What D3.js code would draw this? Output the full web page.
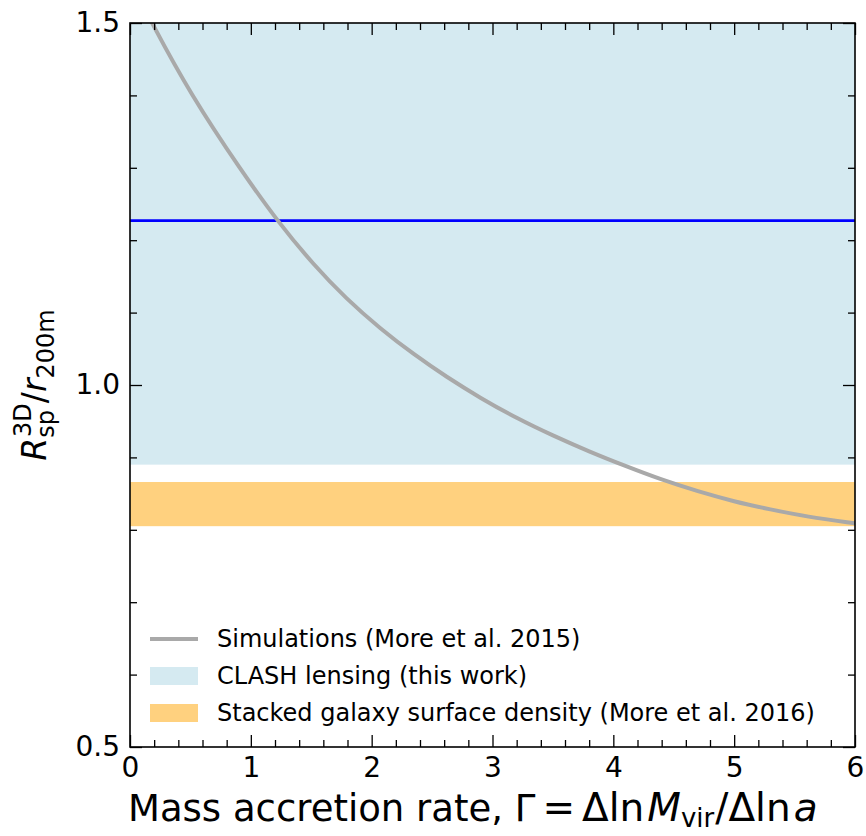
<!DOCTYPE html>
<html>
<head>
<meta charset="utf-8">
<script src="https://cdn.jsdelivr.net/npm/d3@7"></script>
<style>
  body { margin: 0; background: #fff; }
  text { font-family: "DejaVu Sans", sans-serif; fill: #000; }
</style>
</head>
<body>
<div id="chart"></div>
<script>
// simulation curve (More et al. 2015)
const gammaVals = [0, 0.18, 0.5, 0.92, 1.24, 1.52, 1.79, 2.07, 2.35, 2.62, 2.9, 3.2, 3.5, 3.8, 4.1, 4.4, 4.7, 5.0, 5.3, 5.6, 6.0];
const rspVals   = [1.560, 1.500, 1.402, 1.296, 1.222, 1.166, 1.119, 1.078, 1.042, 1.011, 0.982, 0.954, 0.930, 0.908, 0.888, 0.869, 0.853, 0.839, 0.828, 0.818, 0.809];

const clashBand = [0.89, 1.6];      // CLASH lensing range
const clashBest = 1.227;            // CLASH best fit
const stackedBand = [0.805, 0.866]; // More et al. 2016

const xTicks = [0, 1, 2, 3, 4, 5, 6];
const yTicks = [0.5, 1.0, 1.5];
const legendLabels = [
  'Simulations (More et al. 2015)',
  'CLASH lensing (this work)',
  'Stacked galaxy surface density (More et al. 2016)'
];

const W = 866, H = 836;
const margin = { top: 23, right: 11, bottom: 89, left: 130 };
const iw = W - margin.left - margin.right;
const ih = H - margin.top - margin.bottom;

const svg = d3.select('#chart').append('svg')
  .attr('width', W)
  .attr('height', H);

const x = d3.scaleLinear().domain([0, 6]).range([0, iw]);
const y = d3.scaleLinear().domain([0.5, 1.5]).range([ih, 0]);

svg.append('defs').append('clipPath')
  .attr('id', 'plot-clip')
  .append('rect')
  .attr('width', iw)
  .attr('height', ih);

const g = svg.append('g').attr('transform', `translate(${margin.left},${margin.top})`);
const plot = g.append('g').attr('clip-path', 'url(#plot-clip)');

// bands
plot.append('rect')
  .attr('x', x(0)).attr('width', x(6) - x(0))
  .attr('y', y(clashBand[1])).attr('height', y(clashBand[0]) - y(clashBand[1]))
  .attr('fill', '#d5eaf1');

plot.append('rect')
  .attr('x', x(0)).attr('width', x(6) - x(0))
  .attr('y', y(stackedBand[1])).attr('height', y(stackedBand[0]) - y(stackedBand[1]))
  .attr('fill', '#ffd17f');

plot.append('line')
  .attr('x1', x(0)).attr('x2', x(6))
  .attr('y1', y(clashBest)).attr('y2', y(clashBest))
  .attr('stroke', '#0000ff')
  .attr('stroke-width', 2.8);

const simLine = d3.line()
  .x((d, i) => x(gammaVals[i]))
  .y(d => y(d))
  .curve(d3.curveBasis);

plot.append('path')
  .datum(rspVals)
  .attr('d', simLine)
  .attr('fill', 'none')
  .attr('stroke', '#a9a9a9')
  .attr('stroke-width', 4);

// axes with inward ticks, mirrored on all four sides
const minorX = d3.range(0, 6.001, 0.2).filter(v => Math.abs(v - Math.round(v)) > 1e-6);
const minorY = d3.range(0.5, 1.5001, 0.1).filter(v => Math.abs(v * 2 - Math.round(v * 2)) > 1e-6);

function tickAxis(axisFn, scale, vals, len, fmt) {
  return axisFn(scale).tickValues(vals).tickSizeInner(-len).tickSizeOuter(0)
    .tickPadding(10).tickFormat(fmt);
}

const axes = [
  { fn: d3.axisBottom, sc: x, pos: `translate(0,${ih})`, major: xTicks, minor: minorX, labels: true, fmt: d3.format('d') },
  { fn: d3.axisTop, sc: x, pos: 'translate(0,0)', major: xTicks, minor: minorX, labels: false },
  { fn: d3.axisLeft, sc: y, pos: 'translate(0,0)', major: yTicks, minor: minorY, labels: true, fmt: d3.format('.1f') },
  { fn: d3.axisRight, sc: y, pos: `translate(${iw},0)`, major: yTicks, minor: minorY, labels: false }
];

axes.forEach(a => {
  const minorG = g.append('g').attr('transform', a.pos)
    .call(tickAxis(a.fn, a.sc, a.minor, 7, ''));
  minorG.select('.domain').remove();
  minorG.selectAll('text').remove();
  minorG.selectAll('line').attr('stroke', '#000').attr('stroke-width', 1.3);

  const majorG = g.append('g').attr('transform', a.pos)
    .call(tickAxis(a.fn, a.sc, a.major, 12, a.labels ? a.fmt : ''));
  majorG.select('.domain').remove();
  majorG.selectAll('line').attr('stroke', '#000').attr('stroke-width', 1.3);
  if (!a.labels) majorG.selectAll('text').remove();
  majorG.selectAll('text')
    .style('font-size', '28px')
    .style('font-family', '"DejaVu Sans", sans-serif')
    .attr('fill', '#000');
});

// frame
g.append('rect')
  .attr('width', iw).attr('height', ih)
  .attr('fill', 'none')
  .attr('stroke', '#000')
  .attr('stroke-width', 1.6);

// x axis label, math part a touch larger like mathtext
const xl = svg.append('text')
  .attr('x', 128)
  .attr('y', 821)
  .attr('text-anchor', 'start')
  .style('font-size', '37px');
xl.append('tspan').text('Mass accretion rate, \u0393');
xl.append('tspan').attr('dx', 7).style('font-size', '39px').text('=');
xl.append('tspan').attr('dx', 7).style('font-size', '39px').text('\u0394ln');
xl.append('tspan').attr('dx', 3).style('font-size', '39px').style('font-style', 'italic').text('M');
xl.append('tspan').attr('dy', 6).style('font-size', '26px').text('vir');
xl.append('tspan').attr('dy', -6).attr('dx', 1).style('font-size', '39px').text('/\u0394ln');
xl.append('tspan').attr('dx', 3).style('font-size', '39px').style('font-style', 'italic').text('a');

// y axis label
const yl = svg.append('text')
  .attr('transform', `translate(46,${margin.top + y(1.0)}) rotate(-90)`)
  .attr('text-anchor', 'middle')
  .style('font-size', '33px');
yl.append('tspan').style('font-style', 'italic').text('R');
yl.append('tspan').attr('dy', 8).style('font-size', '24px').text('sp');
yl.append('tspan').attr('dx', -27).attr('dy', -23).style('font-size', '24px').text('3D');
yl.append('tspan').attr('dy', 15).text('/');
yl.append('tspan').style('font-style', 'italic').text('r');
yl.append('tspan').attr('dy', 8).style('font-size', '24px').text('200m');

// legend (no frame)
const legend = g.append('g').attr('transform', `translate(20,${ih - 108})`);
const rowH = 37;
legendLabels.forEach((lab, i) => {
  const row = legend.append('g').attr('transform', `translate(0,${i * rowH})`);
  if (i === 0) {
    row.append('line')
      .attr('x1', 0).attr('x2', 48).attr('y1', 0).attr('y2', 0)
      .attr('stroke', '#a9a9a9').attr('stroke-width', 4);
  } else {
    row.append('rect')
      .attr('x', 0).attr('y', -9).attr('width', 48).attr('height', 18)
      .attr('fill', i === 1 ? '#d5eaf1' : '#ffd17f');
  }
  row.append('text')
    .attr('x', 67)
    .attr('dy', '0.35em')
    .style('font-size', '24px')
    .text(lab);
});
</script>
</body>
</html>
